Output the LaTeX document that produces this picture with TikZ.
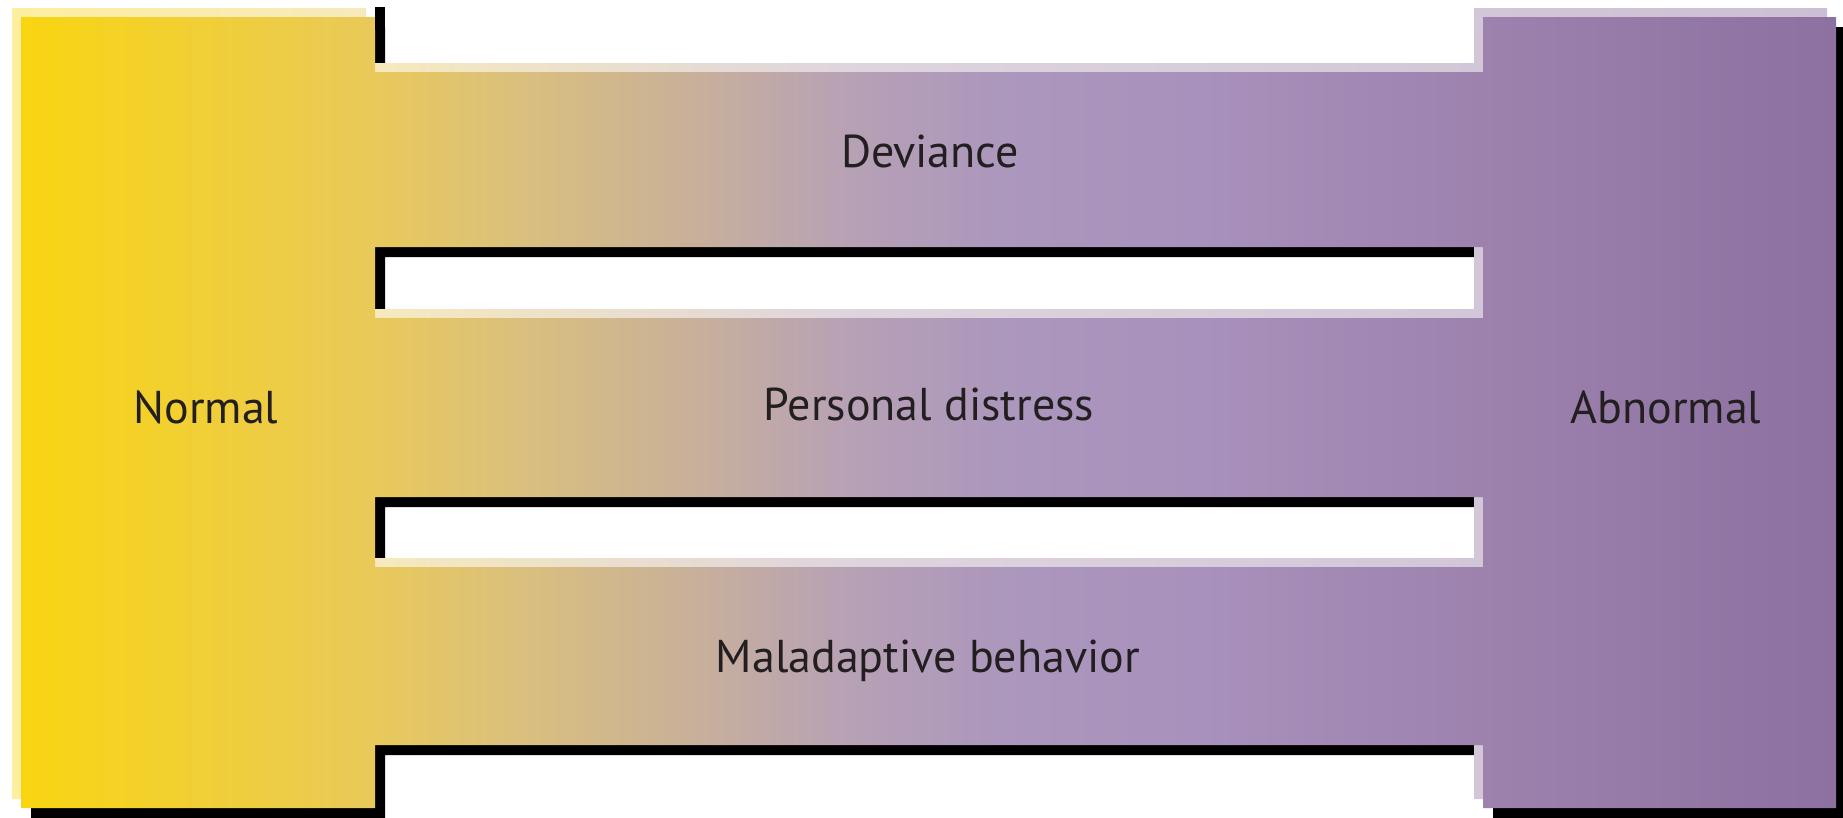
\documentclass[tikz,border=0pt]{standalone}
\usepackage{fontspec}
\setmainfont{PT Sans}
\usetikzlibrary{positioning}

\definecolor{gA}{HTML}{F9D511}
\definecolor{gB}{HTML}{E9C95A}
\definecolor{gC}{HTML}{DBC07C}
\definecolor{gD}{HTML}{C8B09A}
\definecolor{gE}{HTML}{B7A1B5}
\definecolor{gF}{HTML}{AC97BD}
\definecolor{gG}{HTML}{A891BC}
\definecolor{gH}{HTML}{9D82AE}
\definecolor{gI}{HTML}{8C71A1}
\definecolor{inkdark}{HTML}{231F20}
\colorlet{lA}{gA!40!white}
\colorlet{lB}{gB!40!white}
\colorlet{lE}{gE!45!white}
\colorlet{lI}{gI!45!white}

\pgfdeclarehorizontalshading{ladder}{100bp}{color(0bp)=(gA); color(25bp)=(gA);
  color(34.75bp)=(gB); color(38.5bp)=(gC); color(43.5bp)=(gD); color(47.8bp)=(gE);
  color(52bp)=(gF); color(57.5bp)=(gG); color(65.25bp)=(gH); color(75bp)=(gI); color(100bp)=(gI)}
\pgfdeclarehorizontalshading{ladderlight}{100bp}{color(0bp)=(lA); color(25bp)=(lA);
  color(35bp)=(lB); color(48bp)=(lE); color(75bp)=(lI); color(100bp)=(lI)}

\tikzstyle{face}=[shading=ladder, even odd rule]
\tikzstyle{shine}=[shading=ladderlight, even odd rule]
\tikzstyle{dark}=[fill=black, even odd rule]
\tikzstyle{txt}=[anchor=base, inner sep=0pt, text=inkdark, font=\fontsize{46}{54}\selectfont]

\begin{document}
\begin{tikzpicture}[x=1pt, y=-1pt]
  \useasboundingbox[fill=white] (0,0) rectangle (1843,817);
  % shadow, highlight, then the ladder itself
  \foreach \dx/\sty in {10/dark, -9/shine, 0/face}
    \path[\sty, shift={(\dx,\dx)}] (21,17) -| (375,72) -| (1483,17) -| (1836,808)
      -| (1483,745) -| (375,808) -- (21,808) -- cycle
      (375,247) rectangle (1483,318) (375,497) rectangle (1483,567);
  \fill[black] (375,7) rectangle (385,30);
  \node[txt] at (930,167) (dev) {Deviance};
  \node[txt] at (929,420) (dis) {Personal distress};
  \node[txt] at (928,672) (mal) {Maladaptive behavior};
  \node[txt] at (206,423) (norm) {Normal};
  \node[txt] at (1666,423) (abn) {Abnormal};
\end{tikzpicture}
\end{document}
